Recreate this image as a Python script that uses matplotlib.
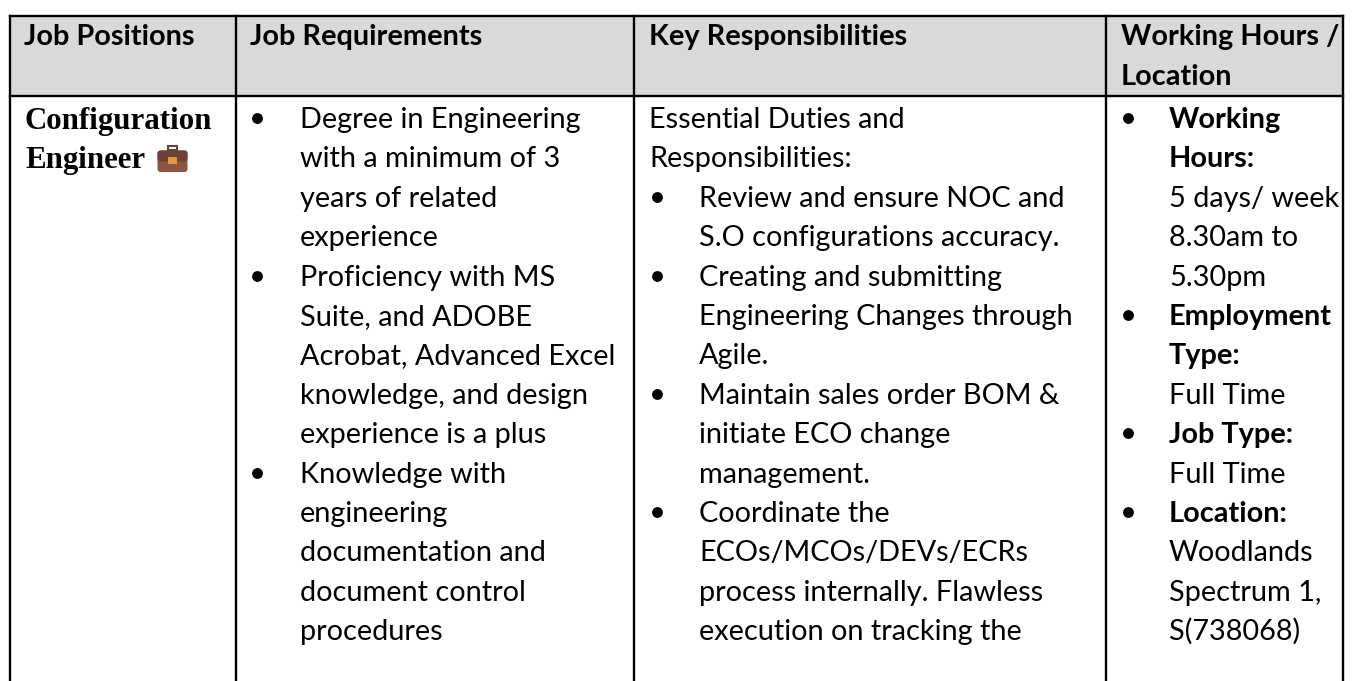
import matplotlib
matplotlib.use('Agg')
import matplotlib.pyplot as plt
from matplotlib.patches import Rectangle, FancyBboxPatch

headers = ['Job Positions', 'Job Requirements', 'Key Responsibilities', 'Working Hours /\nLocation']
position = ['Configuration', 'Engineer']

# (bullet starts here, text)
requirements = [
    (1, 'Degree in Engineering'),
    (0, 'with a minimum of 3'),
    (0, 'years of related'),
    (0, 'experience'),
    (1, 'Proficiency with MS'),
    (0, 'Suite, and ADOBE'),
    (0, 'Acrobat, Advanced Excel'),
    (0, 'knowledge, and design'),
    (0, 'experience is a plus'),
    (1, 'Knowledge with'),
    (0, 'engineering'),
    (0, 'documentation and'),
    (0, 'document control'),
    (0, 'procedures'),
]

duties_intro = ['Essential Duties and', 'Responsibilities:']
duties = [
    (1, 'Review and ensure NOC and'),
    (0, 'S.O configurations accuracy.'),
    (1, 'Creating and submitting'),
    (0, 'Engineering Changes through'),
    (0, 'Agile.'),
    (1, 'Maintain sales order BOM &'),
    (0, 'initiate ECO change'),
    (0, 'management.'),
    (1, 'Coordinate the'),
    (0, 'ECOs/MCOs/DEVs/ECRs'),
    (0, 'process internally. Flawless'),
    (0, 'execution on tracking the'),
]

# (bullet, bold, text)
hours = [
    (1, 1, 'Working'),
    (0, 1, 'Hours:'),
    (0, 0, '5 days/ week'),
    (0, 0, '8.30am to'),
    (0, 0, '5.30pm'),
    (1, 1, 'Employment'),
    (0, 1, 'Type:'),
    (0, 0, 'Full Time'),
    (1, 1, 'Job Type:'),
    (0, 0, 'Full Time'),
    (1, 1, 'Location:'),
    (0, 0, 'Woodlands'),
    (0, 0, 'Spectrum 1,'),
    (0, 0, 'S(738068)'),
]

col_x = [10, 236, 633.5, 1106, 1343]
top, head_bottom = 16, 96
first_base, line_h = 128, 39.4
font = 'Lato'
fs = 20.8

fig = plt.figure(figsize=(13.53, 6.81), dpi=100)
ax = fig.add_axes([0, 0, 1, 1])
ax.set_xlim(0, 1353)
ax.set_ylim(681, 0)
ax.axis('off')

ax.add_patch(Rectangle((col_x[0], top), col_x[-1] - col_x[0], head_bottom - top, color='#d9d9d9', lw=0))
ax.plot([col_x[0], col_x[-1]], [top, top], color='black', lw=1.7)
ax.plot([col_x[0], col_x[-1]], [head_bottom, head_bottom], color='black', lw=1.7)
for x in col_x:
    ax.plot([x, x], [top, 681], color='black', lw=1.7)


def put(x, y, s, bold=False):
    ax.text(x, y, s, family=font, fontsize=fs, color='black', va='baseline',
            fontweight='bold' if bold else 'normal')


def bullet(x, y):
    ax.plot([x], [y - 10], 'o', color='black', ms=7.8, mew=0)


head_x = [24, 250, 649, 1121]
for x, h in zip(head_x, headers):
    for i, part in enumerate(h.split('\n')):
        put(x, 45 + i * 40, part, bold=True)

for i, s in enumerate(position):
    ax.text(25, 129 + i * 39, s, family='Liberation Serif', fontweight='bold',
            fontsize=22.2, color='black', va='baseline')

# briefcase icon
ax.add_patch(FancyBboxPatch((159, 152), 27, 18.5, boxstyle='round,pad=1.5,rounding_size=3', fc='#8d5442', ec='none'))
ax.add_patch(FancyBboxPatch((159, 152), 27, 8, boxstyle='round,pad=1.5,rounding_size=3', fc='#6d4234', ec='none'))
ax.add_patch(Rectangle((168, 146), 9, 4, fc='none', ec='#6d4234', lw=1.5))
ax.add_patch(Rectangle((168, 157), 9, 7, color='#e09a3a', lw=0))

for i, (b, s) in enumerate(requirements):
    if b:
        bullet(257, first_base + i * line_h)
    put(300, first_base + i * line_h, s)

for i, s in enumerate(duties_intro):
    put(649, first_base + i * line_h, s)
for i, (b, s) in enumerate(duties):
    y = first_base + (i + 2) * line_h
    if b:
        bullet(657, y)
    put(699, y, s)

for i, (b, bd, s) in enumerate(hours):
    y = first_base + i * line_h
    if b:
        bullet(1127.5, y)
    put(1169, y, s, bold=bool(bd))

fig.savefig('out.png', dpi=100)
